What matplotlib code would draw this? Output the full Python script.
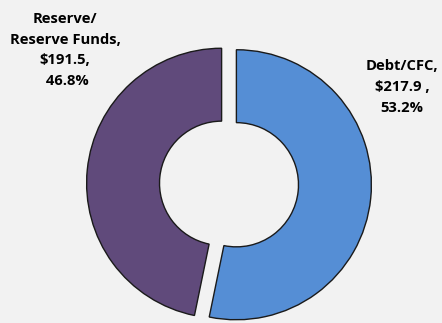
import matplotlib.pyplot as plt

labels = ["Debt/CFC,\n$217.9 ,\n53.2%", "Reserve/\nReserve Funds,\n$191.5,\n 46.8%"]
values = [217.9, 191.5]
colors = ["#558ED5", "#604A7B"]

fig = plt.figure(figsize=(4.42, 3.23), dpi=100)
fig.patch.set_facecolor("#F2F2F2")
ax = fig.add_axes([0, 0, 1, 1])
ax.set_facecolor("#F2F2F2")

ax.pie(
    values,
    colors=colors,
    startangle=90,
    counterclock=False,
    explode=[0.055, 0.055],
    radius=1.0,
    wedgeprops=dict(width=0.54, edgecolor="#1a1a1a", linewidth=1.0),
)

# pixel-based limits so the ring sits where it does in the original
r = 135.0
cx, cy = 229.0, 323 - 184.0
ax.set_xlim(-cx / r, (442 - cx) / r)
ax.set_ylim(-cy / r, (323 - cy) / r)
ax.set_aspect("equal")
ax.axis("off")

font = dict(family="Open Sans", weight="bold", fontsize=10.6, ha="center",
            va="center", linespacing=1.62, color="black")
fig.text(65 / 442, 1 - 50 / 323, labels[1], **font)
fig.text(402 / 442, 1 - 87 / 323, labels[0], **font)

fig.savefig("out.png", dpi=100, facecolor=fig.get_facecolor())
